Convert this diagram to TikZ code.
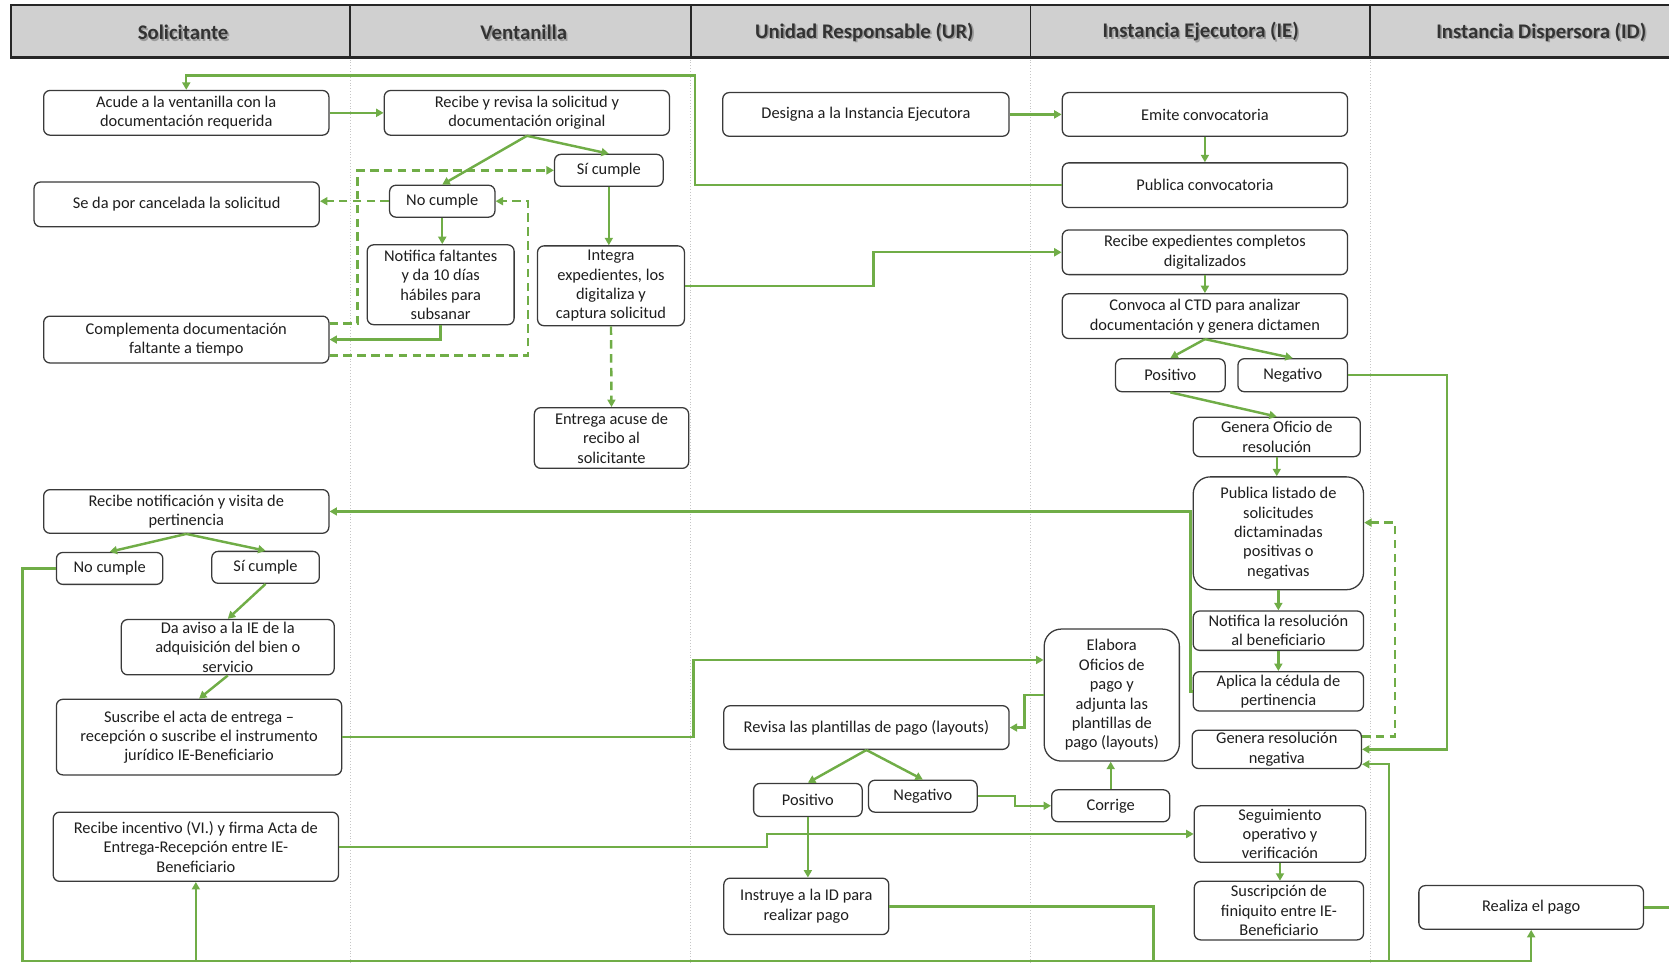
\documentclass[tikz,border=0pt]{standalone}
\usepackage{fontspec}
\setmainfont{Carlito}
\usetikzlibrary{arrows.meta,calc}
\definecolor{grn}{HTML}{70AD47}
\definecolor{hdr}{HTML}{D0D0D0}
\definecolor{bordc}{HTML}{3A3A3A}
\definecolor{txt}{HTML}{1E1E1E}
\begin{document}
\begin{tikzpicture}[x=1pt,y=-1pt,
  box/.style={draw=bordc, line width=1.2pt, fill=white, rounded corners=6pt, align=center, inner sep=0pt, font=\fontsize{15.4}{18.2}\selectfont, text=txt},
  bigbox/.style={box, rounded corners=16pt},
  sz/.style 2 args={minimum width=#1pt, minimum height=#2pt},
  lnk/.style={draw=grn, line width=2.3pt},
  arr/.style={lnk, -{Triangle[length=7pt,width=7.5pt]}},
  dasharr/.style={arr, dash pattern=on 8pt off 5pt},
  lane/.style={draw=gray!45, line width=0.7pt, dotted},
  hdrtxt/.style={font=\fontsize{19.5}{22}\selectfont\bfseries, text=black!80, inner sep=0pt},
  hdrshadow/.style={hdrtxt, text=black, opacity=0.25}
]
\useasboundingbox (0,0) rectangle (1568,906);
% header
\draw[fill=hdr, draw=black!85, line width=2pt] (10,5) rectangle (1600,54);
\foreach \xx in {329,649,968,1287} {\draw[black!85, line width=1.4pt] (\xx,5) -- (\xx,54);}
\foreach \xx in {329,649,968,1287} {\draw[lane] (\xx,56) -- (\xx,906);}
\node[hdrshadow] (h1s) at (173.5,31.8) {Solicitante};
\node[hdrshadow] (h2s) at (493.5,31.8) {Ventanilla};
\node[hdrshadow] (h3s) at (813.5,31.8) {Unidad Responsable (UR)};
\node[hdrshadow] (h4s) at (1129.5,31.8) {Instancia Ejecutora (IE)};
\node[hdrshadow] (h5s) at (1449.5,31.8) {Instancia Dispersora (ID)};
\node[hdrtxt] (h1) at (172,30) {Solicitante};
\node[hdrtxt] (h2) at (492,30) {Ventanilla};
\node[hdrtxt] (h3) at (812,30) {Unidad Responsable (UR)};
\node[hdrtxt] (h4) at (1128,30) {Instancia Ejecutora (IE)};
\node[hdrtxt] (h5) at (1448,30) {Instancia Dispersora (ID)};

% Solicitante
\node[box, sz={268}{42}] (acude) at (175,106) {Acude a la ventanilla con la\\documentación requerida};
\node[box, sz={268}{42}] (cancel) at (166,192) {Se da por cancelada la solicitud};
\node[box, sz={268}{44}] (compl) at (175,319) {Complementa documentación\\faltante a tiempo};
\node[box, sz={268}{41}] (recnot) at (175,480.5) {Recibe notificación y visita de\\pertinencia};
\node[box, sz={100}{30}] (nocs) at (103,534) {No cumple};
\node[box, sz={101}{30}] (sics) at (249.5,533) {Sí cumple};
\node[box, sz={200}{52}] (aviso) at (214,608) {Da aviso a la IE de la\\adquisición del bien o\\servicio};
\node[box, sz={268}{71}] (suscribe) at (187,692.5) {Suscribe el acta de entrega –\\recepción o suscribe el instrumento\\jurídico IE-Beneficiario};
\node[box, sz={268}{65}] (incent) at (184,795.5) {Recibe incentivo (VI.) y firma Acta de\\Entrega-Recepción entre IE-\\Beneficiario};

% Ventanilla
\node[box, sz={268}{42}] (revisa) at (495,106) {Recibe y revisa la solicitud y\\documentación original};
\node[box, sz={102}{30}] (sicv) at (572,160) {Sí cumple};
\node[box, sz={99}{30}] (nocv) at (415.5,189) {No cumple};
\node[box, sz={138}{75}] (notif) at (414,267.5) {Notifica faltantes\\y da 10 días\\hábiles para\\subsanar};
\node[box, sz={138}{75}] (integra) at (574,268.5) {Integra\\expedientes, los\\digitaliza y\\captura solicitud};
\node[box, sz={145}{57}] (acuse) at (574.5,411.5) {Entrega acuse de\\recibo al\\solicitante};

% UR
\node[box, sz={269}{41}] (designa) at (813.5,107.5) {Designa a la Instancia Ejecutora};
\node[box, sz={268}{41}] (plantillas) at (814,683.5) {Revisa las plantillas de pago (layouts)};
\node[box, sz={102}{31}] (posur) at (759,751.5) {Positivo};
\node[box, sz={102}{30}] (negur) at (867,748) {Negativo};
\node[box, sz={155}{53}] (instruye) at (757.5,851.5) {Instruye a la ID para\\realizar pago};

% IE
\node[box, sz={268}{41}] (emite) at (1132,107.5) {Emite convocatoria};
\node[box, sz={268}{42}] (pubconv) at (1132,174) {Publica convocatoria};
\node[box, sz={268}{42}] (recexp) at (1132,237) {Recibe expedientes completos\\digitalizados};
\node[box, sz={268}{42}] (convoca) at (1132,297) {Convoca al CTD para analizar\\documentación y genera dictamen};
\node[box, sz={103}{31}] (posie) at (1099.5,352.5) {Positivo};
\node[box, sz={103}{31}] (negie) at (1214.5,352.5) {Negativo};
\node[box, sz={157}{37}] (oficio) at (1199.5,410.5) {Genera Oficio de\\resolución};
\node[bigbox, sz={160}{106}] (listado) at (1201,501) {Publica listado de\\solicitudes\\dictaminadas\\positivas o\\negativas};
\node[box, sz={160}{37}] (notres) at (1201,592.5) {Notifica la resolución\\al beneficiario};
\node[box, sz={160}{37}] (cedula) at (1201,649.5) {Aplica la cédula de\\pertinencia};
\node[box, sz={159}{36}] (resneg) at (1199.5,704) {Genera resolución\\negativa};
\node[bigbox, sz={127}{124}] (elabora) at (1044.5,653) {Elabora\\Oficios de\\pago y\\adjunta las\\plantillas de\\pago (layouts)};
\node[box, sz={111}{30}] (corrige) at (1043.5,757) {Corrige};
\node[box, sz={161}{53}] (seguim) at (1202.5,783.5) {Seguimiento\\operativo y\\verificación};
\node[box, sz={159}{55}] (finiq) at (1201.5,855.5) {Suscripción de\\finiquito entre IE-\\Beneficiario};

% ID
\node[box, sz={211}{41}] (pago) at (1438.5,852.5) {Realiza el pago};

% coordinates for free ends
\coordinate (bl) at (21,903);
\coordinate (br) at (1305,903);
\coordinate (ib) at (184,903);
\coordinate (pb) at (1438.5,903);
\coordinate (edge) at (1570,852.5);

% connectors
\draw[arr] (acude.east) -- (revisa.west);
\draw[arr] (pubconv.west) -| (653,71) -| (acude.north);
\draw[arr] (revisa.south) -- (nocv.north);
\draw[arr] (revisa.south) -- (sicv.north);
\draw[arr] (sicv.south) -- (sicv.south |- integra.north);
\draw[arr] (nocv.south) -- (nocv.south |- notif.north);
\draw[arr] (notif.south) |- (compl.east);
\draw[dasharr] (nocv.west) -- (cancel.east |- nocv.west);
\draw[dasharr] ([yshift=15pt]compl.east) -| (336,160) -- (sicv.west);
\draw[dasharr] ([yshift=-15pt]compl.east) -| (496,189) -- (nocv.east);
\draw[dasharr] (integra.south) -- (acuse.north);
\draw[arr] (integra.east) -- ++(177,0) |- (recexp.west);
\draw[arr] (designa.east) -- (emite.west);
\draw[arr] (emite.south) -- (pubconv.north);
\draw[arr] (recexp.south) -- (convoca.north);
\draw[arr] (convoca.south) -- (posie.north);
\draw[arr] (convoca.south) -- (negie.north);
\draw[arr] (posie.south) -- (oficio.north);
\draw[arr] (negie.east) -- ++(93,0) |- (resneg.east);
\draw[arr] (oficio.south) -- (oficio.south |- listado.north);
\draw[arr] (listado.south) -- (notres.north);
\draw[arr] (notres.south) -- (cedula.north);
\draw[arr] (cedula.west) -- ++(-2,0) |- (recnot.east);
\draw[dasharr] ([yshift=12pt]resneg.east) -- ++(31,0) |- ([yshift=10pt]listado.east);
\draw[arr] (recnot.south) -- (nocs.north);
\draw[arr] (recnot.south) -- (sics.north);
\draw[arr] (sics.south) -- (aviso.north);
\draw[arr] (aviso.south) -- (suscribe.north);
\draw[arr] (suscribe.east) -- ++(330,0) |- ([yshift=33pt]elabora.west);
\draw[arr] (elabora.west) -- ++(-18,0) |- (plantillas.east);
\draw[arr] (plantillas.south) -- (posur.north);
\draw[arr] (plantillas.south) -- (negur.north);
\draw[arr] (negur.east) -- ++(35,0) |- (corrige.west);
\draw[arr] (corrige.north) -- (corrige.north |- elabora.south);
\draw[arr] (posur.south) -- (posur.south |- instruye.north);
\draw[arr] (incent.east) -- ++(402,0) |- (seguim.west);
\draw[arr] (seguim.south) -- (seguim.south |- finiq.north);
\draw[arr] (nocs.west) -| (bl) -- (br) |- ([yshift=-14pt]resneg.east);
\draw[arr] (instruye.east) -- ++(248,0) |- (pb) -- (pago.south);
\draw[lnk] (pago.east) -- (edge);
\draw[arr] (ib) -- (incent.south);
\end{tikzpicture}
\end{document}
